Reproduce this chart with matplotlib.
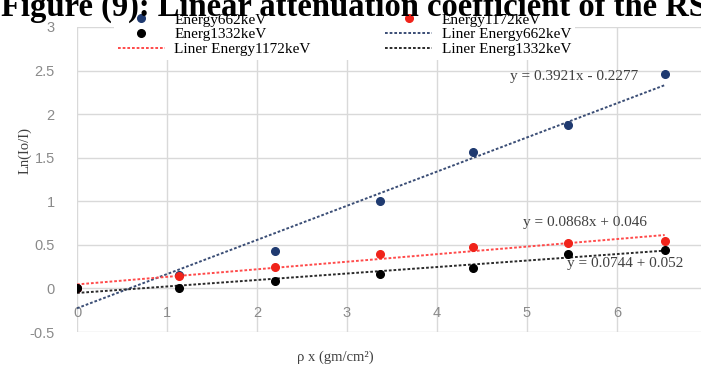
import numpy as np
import matplotlib
matplotlib.use("Agg")
import matplotlib.pyplot as plt

# Areal density rho*x (gm/cm^2)
thickness = [0.0, 1.13, 2.2, 3.37, 4.4, 5.46, 6.53]

# ln(I0/I) measured at each energy
ln_662 = [0.0, 0.15, 0.43, 1.00, 1.56, 1.87, 2.46]
ln_1172 = [0.0, 0.14, 0.25, 0.39, 0.48, 0.52, 0.55]
ln_1332 = [0.0, 0.01, 0.08, 0.17, 0.23, 0.40, 0.44]

# Linear trendline coefficients (slope, intercept)
fit_662 = (0.3921, -0.2277)
fit_1172 = (0.0868, 0.046)
fit_1332 = (0.0744, -0.052)

eq_662 = "y = 0.3921x - 0.2277"
eq_1172 = "y = 0.0868x + 0.046"
eq_1332 = "y = 0.0744 + 0.052"

x_ticks = [0, 1, 2, 3, 4, 5, 6]
y_ticks = [-0.5, 0, 0.5, 1, 1.5, 2, 2.5, 3]

W, H = 701, 372
fig = plt.figure(figsize=(W / 100, H / 100), dpi=100)
fig.patch.set_facecolor("white")

serif = ["Liberation Serif", "DejaVu Serif"]
sans = ["Liberation Sans", "DejaVu Sans"]

# Plot area in pixel coordinates
left_px, right_px, top_px, bottom_px = 77, 707, 27, 332
ax = fig.add_axes([left_px / W, 1 - bottom_px / H,
                   (right_px - left_px) / W, (bottom_px - top_px) / H])
ax.set_xlim(0, 7)
ax.set_ylim(-0.5, 3)

grid_c = "#d9d9d9"
ax.set_xticks(x_ticks)
ax.set_yticks(y_ticks)
ax.grid(True, color=grid_c, linewidth=1.0)
ax.set_axisbelow(True)
for s in ax.spines.values():
    s.set_visible(False)
ax.spines["bottom"].set_position(("data", 0))

tick_c = "#8a8a8a"
ax.tick_params(axis="both", length=0, labelcolor=tick_c, labelsize=10.5)
ax.tick_params(axis="x", pad=13)
ax.tick_params(axis="y", pad=16)
ax.set_yticklabels([f"{v:g}" for v in y_ticks], fontfamily=sans)
ax.set_xticklabels([str(v) for v in x_ticks], fontfamily=sans)

c_662 = "#1f3a70"
c_1172 = "#f0231a"
c_1332 = "#000000"

xs = np.array([thickness[0], thickness[-1]])
t662, = ax.plot(xs, fit_662[0] * xs + fit_662[1], color="#3a4d75",
                lw=1.4, ls=(0, (1.4, 1.0)), zorder=2)
t1172, = ax.plot(xs, fit_1172[0] * xs + fit_1172[1], color="#ff4a4a",
                 lw=1.4, ls=(0, (1.4, 1.0)), zorder=2)
t1332, = ax.plot(xs, fit_1332[0] * xs + fit_1332[1], color="#2a2a2a",
                 lw=1.4, ls=(0, (1.4, 1.0)), zorder=2)

ms = 5.5
s662, = ax.plot(thickness, ln_662, "o", color=c_662, ms=ms, ls="none", zorder=3)
s1172, = ax.plot(thickness, ln_1172, "o", color=c_1172, ms=ms, ls="none", zorder=4)
s1332, = ax.plot(thickness, ln_1332, "o", color=c_1332, ms=ms, ls="none", zorder=5)

eq_c = "#404040"
ax.text(5.52, 2.43, eq_662, ha="center", va="center", color=eq_c,
        fontsize=11, fontfamily=serif, zorder=6)
ax.text(5.64, 0.76, eq_1172, ha="center", va="center", color=eq_c,
        fontsize=11, fontfamily=serif, zorder=6)
ax.text(5.44, 0.285, eq_1332, ha="left", va="center", color=eq_c,
        fontsize=11, fontfamily=serif, zorder=6)

handles = [s662, s1332, t1172, s1172, t662, t1332]
labels = ["Energy662keV", "Energ1332keV", "Liner Energy1172keV",
          "Energy1172keV", "Liner Energy662keV", "Liner Energ1332keV"]
leg = ax.legend(handles, labels, ncol=2, loc="upper left",
                bbox_to_anchor=(114 / W, 1 - 9 / H),
                bbox_transform=fig.transFigure,
                frameon=True, facecolor="white", edgecolor="none",
                framealpha=1.0, fancybox=False, borderaxespad=0,
                borderpad=0.25, handlelength=3.07, handletextpad=0.62,
                columnspacing=4.9, labelspacing=0.07,
                prop={"family": serif, "size": 11})
leg.set_zorder(7)

fig.text(25 / W, 1 - 150 / H, "Ln(Io/I)", rotation=90, ha="center",
         va="center", fontsize=10.5, fontfamily=serif, color="#404040")
fig.text(335 / W, 1 - 357 / H, "ρ x (gm/cm²)", ha="center", va="center",
         fontsize=10.5, fontfamily=serif, color="#404040")

fig.text(1 / W, 1 - 16 / H,
         "Figure (9): Linear attenuation coefficient of the RS",
         ha="left", va="baseline", fontsize=23.5, fontweight="bold",
         fontfamily=serif, color="black")

fig.savefig("out.png", dpi=100, facecolor="white")
